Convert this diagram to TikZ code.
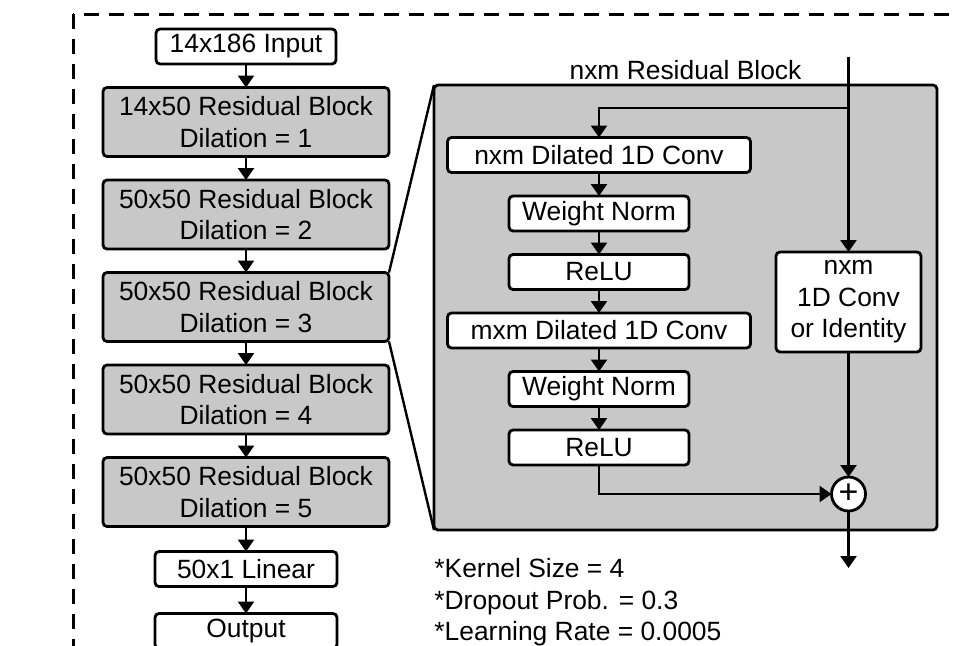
\documentclass[tikz,border=0pt]{standalone}
\usepackage{fontspec}
\setmainfont{Liberation Sans}
\usetikzlibrary{arrows.meta, positioning, shapes, calc}
\definecolor{BlockGray}{RGB}{200,200,200}

\begin{document}
\begin{tikzpicture}[
        x=0.5pt, y=-0.5pt,
        node distance=11.75pt,
        font=\fontsize{13.2}{15.8}\selectfont,
        block/.style={rectangle, draw, line width=1.4pt, fill=white, rounded corners=2pt, text centered, align=center, inner sep=1pt, outer sep=0pt, minimum height=17.5pt},
        resblock/.style={block, fill=BlockGray, minimum width=143pt, minimum height=34.5pt},
        line/.style={draw, line width=1.2pt, -{Triangle[width=8pt, length=6pt]}}
    ]
        \useasboundingbox (0,0) rectangle (957,645);
        \clip (0,0) rectangle (957,645);
        \draw [line width=1.5pt, dash pattern=on 7.5pt off 5pt] (73,14) rectangle (1100,800);

        % main network
        \node [block, minimum width=90pt] (in) at (246,46.5) {14x186 Input};
        \node [resblock, below=of in] (rb1) {14x50 Residual Block\\Dilation = 1};
        \node [resblock, below=of rb1] (rb2) {50x50 Residual Block\\Dilation = 2};
        \node [resblock, below=of rb2] (rb3) {50x50 Residual Block\\Dilation = 3};
        \node [resblock, below=of rb3] (rb4) {50x50 Residual Block\\Dilation = 4};
        \node [resblock, below=of rb4] (rb5) {50x50 Residual Block\\Dilation = 5};
        \node [block, minimum width=91pt, below=12.5pt of rb5] (lin) {50x1 Linear};
        \node [block, minimum width=91pt, below=13.5pt of lin] (out) {Output};

        \foreach \a/\b in {in/rb1, rb1/rb2, rb2/rb3, rb3/rb4, rb4/rb5, rb5/lin, lin/out}
            \path [line] (\a) -- (\b);

        % residual block detail
        \node [rectangle, draw, line width=1.4pt, fill=BlockGray, rounded corners=2pt, outer sep=0pt, minimum width=251.5pt, minimum height=222.5pt] (res) at (685.5,307.5) {};
        \node [above=-1pt of res] (restitle) {nxm Residual Block};
        \draw [line width=1.2pt] (rb3.north east) -- (res.north west);
        \draw [line width=1.2pt] (rb3.south east) -- (res.south west);

        \node [block, minimum width=151.5pt] (dc1) at (599,155) {nxm Dilated 1D Conv};
        \node [block, minimum width=90pt, below=of dc1] (wn1) {Weight Norm};
        \node [block, minimum width=90pt, below=of wn1] (re1) {ReLU};
        \node [block, minimum width=151.5pt, below=of re1] (dc2) {mxm Dilated 1D Conv};
        \node [block, minimum width=90pt, below=of dc2] (wn2) {Weight Norm};
        \node [block, minimum width=90pt, below=of wn2] (re2) {ReLU};
        \node [block, minimum width=72.5pt, minimum height=50pt] (skip) at (848.5,302) {nxm\\1D Conv\\or Identity};
        \node [circle, draw, line width=1.4pt, fill=white, outer sep=0pt, minimum size=17pt, inner sep=0pt, font=\fontsize{17}{17}\selectfont] (sum) at (848.5,494) {+};

        \coordinate (top) at (848.5,57);
        \coordinate (split) at (848.5,108);
        \coordinate (exit) at (848.5,568);

        \path [line] (top) -- (skip);
        \path [line] (split) -| (dc1);
        \foreach \a/\b in {dc1/wn1, wn1/re1, re1/dc2, dc2/wn2, wn2/re2}
            \path [line] (\a) -- (\b);
        \path [line] (re2) |- (sum);
        \path [line] (skip) -- (sum);
        \path [line] (sum) -- (exit);

        \node [anchor=north west, align=left, inner sep=0pt] (notes) at (434,558) {*Kernel Size = 4\\*Dropout Prob. = 0.3\\*Learning Rate = 0.0005};
    \end{tikzpicture}
\end{document}
